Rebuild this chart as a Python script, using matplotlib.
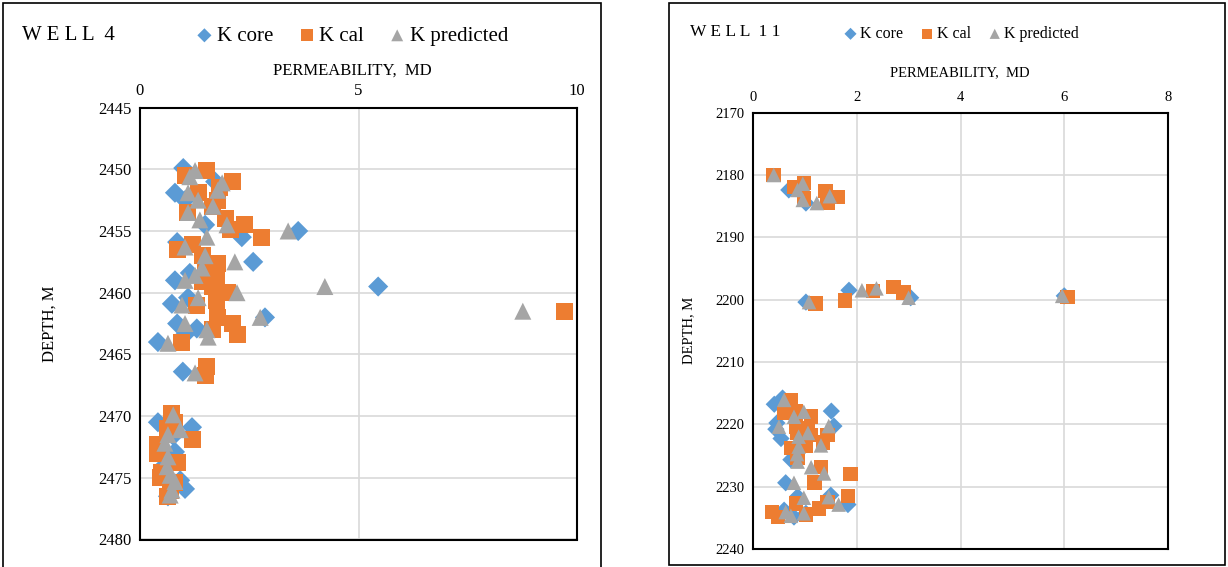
"""
Permeability vs depth for wells 4 and 11 (core, calculated, predicted).
"""

import matplotlib.pyplot as plt
from matplotlib.patches import Rectangle

plt.rcParams["font.family"] = ["Liberation Serif", "DejaVu Serif"]

BLUE = "#5B9BD5"
ORANGE = "#ED7D31"
GRAY = "#A5A5A5"

# WELL 4 -------------------------------------------------------------
w4_core_k = [0.99, 1.72, 0.80, 1.03, 1.49, 3.62, 2.33, 0.85, 2.59, 1.14,
             0.80, 5.45, 1.10, 0.73, 2.86, 0.85, 1.30, 1.03, 0.41, 0.98,
             0.41, 1.19, 0.76, 0.80, 0.53, 0.92, 1.03, 0.64]
w4_core_d = [2449.9, 2451.0, 2451.9, 2452.5, 2454.5, 2455.0, 2455.5, 2455.9,
             2457.5, 2458.4, 2459.0, 2459.5, 2460.4, 2460.9, 2462.0, 2462.5,
             2462.9, 2463.4, 2464.0, 2466.4, 2470.5, 2470.9, 2471.6, 2472.9,
             2474.1, 2475.2, 2475.9, 2476.5]

w4_cal_k = [1.53, 1.03, 2.11, 1.83, 1.33, 1.78, 1.65, 1.08, 1.95, 2.40,
            2.06, 2.77, 1.21, 0.85, 1.44, 1.78, 1.49, 1.76, 1.42, 1.65,
            2.01, 1.76, 1.30, 9.72, 1.78, 2.11, 1.67, 2.24, 0.96, 1.53,
            1.49, 0.73, 0.80, 0.62, 1.21, 0.41, 0.41, 0.85, 0.50, 0.46,
            0.80, 0.69, 0.64]
w4_cal_d = [2450.1, 2450.5, 2451.0, 2451.5, 2451.9, 2452.5, 2453.0, 2453.5,
            2454.0, 2454.5, 2454.9, 2455.5, 2456.1, 2456.5, 2457.0, 2457.6,
            2458.0, 2458.6, 2459.1, 2459.5, 2460.0, 2460.6, 2461.0, 2461.5,
            2462.0, 2462.5, 2463.0, 2463.4, 2464.0, 2466.0, 2466.7, 2469.8,
            2470.5, 2471.0, 2471.9, 2472.3, 2473.0, 2473.8, 2474.6, 2475.0,
            2475.4, 2476.0, 2476.5]

w4_pred_k = [1.26, 1.14, 1.88, 1.78, 1.10, 1.33, 1.67, 1.10, 1.37, 1.99,
             3.39, 1.53, 1.03, 1.49, 2.17, 1.42, 1.26, 1.03, 4.23, 2.22,
             1.33, 0.96, 8.76, 2.75, 1.03, 1.53, 1.56, 0.64, 1.26, 0.76,
             0.92, 0.64, 0.57, 0.64, 0.62, 0.69, 0.80, 0.73, 0.69]
w4_pred_d = [2450.1, 2450.6, 2451.1, 2451.7, 2451.9, 2452.5, 2453.0, 2453.5,
             2454.1, 2454.5, 2455.0, 2455.5, 2456.3, 2457.0, 2457.5, 2458.0,
             2458.6, 2459.0, 2459.5, 2460.0, 2460.4, 2461.0, 2461.5, 2462.0,
             2462.5, 2463.0, 2463.6, 2464.1, 2466.5, 2469.9, 2471.1, 2471.5,
             2472.2, 2473.3, 2474.1, 2474.8, 2475.3, 2476.0, 2476.4]

# WELL 11 ------------------------------------------------------------
w11_core_k = [0.69, 1.02, 1.85, 3.04, 1.02, 6.0, 0.41, 0.57, 1.51, 0.46,
              0.44, 1.56, 0.54, 0.73, 0.63, 0.86, 1.50, 1.83, 0.60, 0.79,
              1.02]
w11_core_d = [2182.4, 2184.5, 2198.5, 2199.7, 2200.4, 2199.4, 2216.8, 2215.8,
              2217.9, 2219.8, 2220.8, 2220.3, 2222.3, 2225.7, 2229.4, 2231.6,
              2231.4, 2232.9, 2233.8, 2234.9, 2234.3]

w11_cal_k = [0.40, 0.79, 0.98, 0.98, 1.40, 1.63, 1.44, 2.71, 2.31, 2.90,
             1.77, 1.21, 6.06, 0.73, 0.60, 0.83, 1.12, 0.83, 1.06, 0.86,
             1.12, 1.44, 1.35, 0.73, 1.02, 0.86, 1.31, 1.88, 1.19, 0.83,
             1.27, 1.44, 1.83, 1.02, 0.37, 0.48]
w11_cal_d = [2180.0, 2181.9, 2181.3, 2183.8, 2182.6, 2183.5, 2184.5, 2198.0,
             2198.6, 2198.9, 2200.1, 2200.6, 2199.6, 2216.1, 2218.2, 2218.0,
             2218.8, 2220.4, 2220.6, 2221.4, 2221.7, 2221.7, 2222.9, 2223.8,
             2223.4, 2225.3, 2226.9, 2228.0, 2229.4, 2232.7, 2233.5, 2232.5,
             2231.5, 2234.5, 2234.1, 2234.9]

w11_pred_k = [0.40, 0.96, 0.86, 0.96, 1.23, 1.48, 2.10, 2.38, 3.00, 1.08,
              5.96, 0.60, 0.98, 0.79, 0.50, 1.46, 1.06, 0.88, 1.31, 0.88,
              0.85, 0.86, 1.12, 1.37, 0.79, 0.98, 1.65, 1.46, 0.63, 0.73,
              0.98]
w11_pred_d = [2180.0, 2181.4, 2182.4, 2184.0, 2184.5, 2183.4, 2198.5, 2198.2,
              2199.7, 2200.4, 2199.4, 2216.1, 2218.0, 2218.8, 2220.4, 2220.3,
              2221.4, 2222.0, 2223.4, 2223.6, 2224.8, 2226.0, 2226.9, 2227.9,
              2229.4, 2231.8, 2232.9, 2231.7, 2234.1, 2234.7, 2234.3]

w4_xticks = [0, 5, 10]
w4_yticks = [2445, 2450, 2455, 2460, 2465, 2470, 2475, 2480]
w11_xticks = [0, 2, 4, 6, 8]
w11_yticks = [2170, 2180, 2190, 2200, 2210, 2220, 2230, 2240]

W, H = 1228, 567


def fig_rect(x0, y0, x1, y1):
    """
    Pixel box (top-left origin) to figure fraction rect.
    """

    return [x0 / W, 1 - y1 / H, (x1 - x0) / W, (y1 - y0) / H]


def draw_panel(fig, rect, core, cal, pred, xticks, yticks,
               title, title_xy, legend_xy, label_xy, ylab_x,
               ms, fs_tick, fs_title, fs_leg, colspace):
    """
    Draw one well panel.
    """

    ax = fig.add_axes(fig_rect(*rect))

    ax.scatter(core[0], core[1], marker="D", s=ms * 0.7,
               color=BLUE, edgecolors="none", label="K core", zorder=3)
    ax.scatter(cal[0], cal[1], marker="s", s=ms,
               color=ORANGE, edgecolors="none", label="K cal", zorder=4)
    ax.scatter(pred[0], pred[1], marker="^", s=ms,
               color=GRAY, edgecolors="none", label="K predicted", zorder=5)

    ax.set_xlim(xticks[0], xticks[-1])
    ax.set_ylim(yticks[-1], yticks[0])
    ax.set_xticks(xticks)
    ax.set_yticks(yticks)

    ax.xaxis.tick_top()
    ax.tick_params(length=0, labelsize=fs_tick, pad=6)
    ax.grid(True, color="#D9D9D9", linewidth=1.2)
    ax.set_axisbelow(True)

    for spine in ax.spines.values():
        spine.set_color("black")
        spine.set_linewidth(1.5)

    fig.text(title_xy[0] / W, 1 - title_xy[1] / H, title,
             fontsize=fs_title, va="center", ha="left")

    fig.text(label_xy[0] / W, 1 - label_xy[1] / H, "PERMEABILITY,  MD",
             fontsize=fs_tick, va="center", ha="center")

    fig.text(ylab_x / W, 1 - (rect[1] + rect[3]) / 2 / H, "DEPTH, M",
             fontsize=fs_tick, va="center", ha="center", rotation=90)

    handles, labels = ax.get_legend_handles_labels()
    fig.legend(
        handles,
        labels,
        loc="center",
        bbox_to_anchor=(legend_xy[0] / W, 1 - legend_xy[1] / H),
        ncol=3,
        frameon=False,
        fontsize=fs_leg,
        handletextpad=0.0,
        columnspacing=colspace,
        markerscale=0.7,
        handlelength=1.2,
    )

    return ax


fig = plt.figure(figsize=(W / 100, H / 100), dpi=100)

for box in [(3, 3, 601, 570), (669, 3, 1225, 565)]:
    fig.patches.append(
        Rectangle(
            (box[0] / W, 1 - box[3] / H),
            (box[2] - box[0]) / W,
            (box[3] - box[1]) / H,
            transform=fig.transFigure,
            fill=False,
            edgecolor="black",
            linewidth=1.2,
        )
    )

draw_panel(
    fig, (140, 107.6, 577, 539.5),
    (w4_core_k, w4_core_d), (w4_cal_k, w4_cal_d), (w4_pred_k, w4_pred_d),
    w4_xticks, w4_yticks,
    "W E L L  4", (22, 36), (350, 36), (352, 71), 50,
    ms=150, fs_tick=12, fs_title=15, fs_leg=15, colspace=1.0,
)

draw_panel(
    fig, (753, 112.7, 1168, 548.8),
    (w11_core_k, w11_core_d), (w11_cal_k, w11_cal_d), (w11_pred_k, w11_pred_d),
    w11_xticks, w11_yticks,
    "W E L L  1 1", (690, 32), (960, 34), (960, 73), 689,
    ms=110, fs_tick=10.5, fs_title=12.5, fs_leg=11.5, colspace=0.9,
)

fig.savefig("out.png", dpi=100)
